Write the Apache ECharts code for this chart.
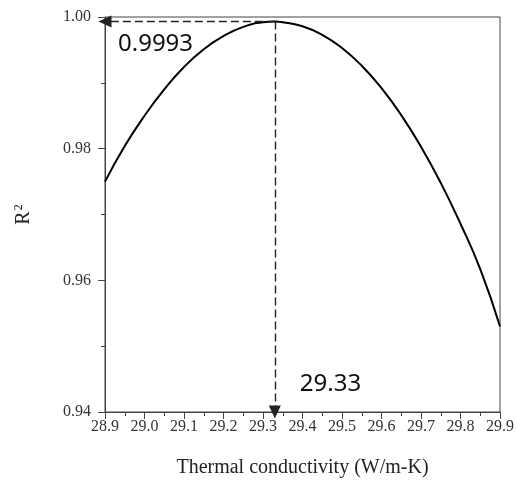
<!DOCTYPE html>
<html>
<head>
<meta charset="utf-8">
<script src="https://cdn.jsdelivr.net/npm/echarts@6/dist/echarts.min.js"></script>
<style>html,body{margin:0;padding:0;background:#fff}#c{width:517px;height:484px}</style>
</head>
<body>
<div id="c"></div>
<script>
// Data
var conductivity = [28.90, 28.95, 29.00, 29.05, 29.10, 29.15, 29.20, 29.25, 29.30, 29.33, 29.35, 29.40, 29.45, 29.50, 29.55, 29.60, 29.65, 29.70, 29.75, 29.80, 29.85, 29.90];
var r2Values     = [0.9750, 0.9804, 0.9850, 0.9890, 0.9924, 0.9951, 0.9971, 0.9985, 0.9992, 0.9993, 0.9992, 0.9986, 0.9973, 0.9953, 0.9926, 0.9892, 0.9851, 0.9803, 0.9748, 0.9686, 0.9617, 0.9530];
var peakX = 29.33;
var peakY = 0.9993;
var xTickLabels = ['28.9','29.0','29.1','29.2','29.3','29.4','29.5','29.6','29.7','29.8','29.9'];
var yTickLabels = ['0.94','0.96','0.98','1.00'];

var points = conductivity.map(function (x, i) { return [x, r2Values[i]]; });
var serif = '"Liberation Serif", "Times New Roman", serif';
var axisColor = '#444';

var chart = echarts.init(document.getElementById('c'));
chart.setOption({
  animation: false,
  backgroundColor: '#fff',
  grid: { left: 105, right: 14, top: 17, bottom: 72, show: true, borderColor: axisColor, borderWidth: 1 },
  xAxis: {
    type: 'value', min: 28.9, max: 29.9, interval: 0.1,
    name: 'Thermal conductivity (W/m-K)', nameLocation: 'middle', nameGap: 46,
    nameTextStyle: { fontFamily: serif, fontSize: 20, color: '#222' },
    axisLine: { lineStyle: { color: axisColor, width: 1 } },
    axisTick: { inside: false, length: 7, lineStyle: { color: axisColor } },
    minorTick: { show: true, splitNumber: 2, length: 4, lineStyle: { color: axisColor } },
    splitLine: { show: false },
    axisLabel: { fontFamily: serif, fontSize: 16, color: '#333', margin: 7,
      formatter: function (v) { var s = v.toFixed(1); return xTickLabels.indexOf(s) >= 0 ? s : ''; } }
  },
  yAxis: {
    type: 'value', min: 0.94, max: 1.00, interval: 0.02,
    name: '{r|R}{s|2}', nameLocation: 'middle', nameGap: 70, nameRotate: 90,
    nameTextStyle: { fontFamily: serif, fontSize: 20, color: '#222',
      rich: {
        r: { fontFamily: serif, fontSize: 20, color: '#222', lineHeight: 22 },
        s: { fontFamily: serif, fontSize: 12, color: '#222', verticalAlign: 'top', lineHeight: 22, padding: [0, 0, 10, 1] }
      } },
    axisLine: { show: true, lineStyle: { color: axisColor, width: 1 } },
    axisTick: { show: true, inside: false, length: 7, lineStyle: { color: axisColor } },
    minorTick: { show: true, splitNumber: 2, length: 4, lineStyle: { color: axisColor } },
    splitLine: { show: false },
    axisLabel: { fontFamily: serif, fontSize: 16, color: '#333', margin: 14,
      formatter: function (v) { var s = v.toFixed(2); return yTickLabels.indexOf(s) >= 0 ? s : ''; } }
  },
  series: [{
    type: 'line',
    data: points,
    smooth: true,
    showSymbol: false,
    lineStyle: { color: '#000', width: 2 },
    markLine: {
      silent: true,
      symbol: ['none', 'triangle'],
      symbolSize: [12, 13],
      lineStyle: { color: '#222', width: 1.4, type: [8, 4] },
      label: { show: false },
      data: [
        [{ coord: [peakX, peakY] }, { coord: [28.9, peakY] }],
        [{ coord: [peakX, peakY] }, { coord: [peakX, 0.94] }]
      ]
    },
    markPoint: {
      silent: true,
      symbol: 'circle', symbolSize: 0,
      data: [
        { coord: [28.9, peakY], label: { show: true, formatter: peakY.toFixed(4), position: 'inside', align: 'left', offset: [13, 23], fontFamily: '"Noto Sans", sans-serif', fontSize: 24, color: '#111' } },
        { coord: [peakX, 0.94], label: { show: true, formatter: peakX.toFixed(2), position: 'inside', align: 'left', offset: [25, -28], fontFamily: '"Noto Sans", sans-serif', fontSize: 24, color: '#111' } }
      ]
    }
  }]
});
</script>
</body>
</html>
